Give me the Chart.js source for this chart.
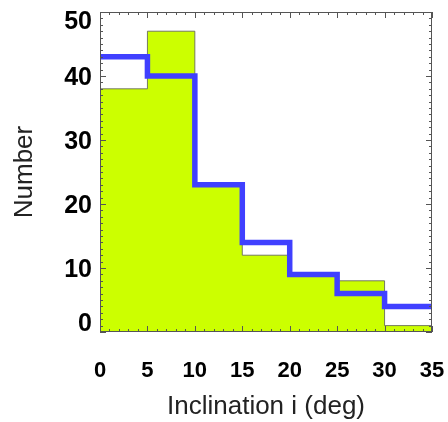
<!DOCTYPE html>
<html>
<head>
<meta charset="utf-8">
<script src="https://cdn.jsdelivr.net/npm/chart.js@4/dist/chart.umd.min.js"></script>
<style>
	html, body { margin: 0; padding: 0; background: #fff; }
	#wrap { width: 448px; height: 422px; }
</style>
</head>
<body>
<div id="wrap"><canvas id="chart" width="448" height="422"></canvas></div>
<script>
// histogram bins (deg) and counts per bin
const binEdges = [0, 5, 10, 15, 20, 25, 30, 35];
const observedCounts = [38, 47, 23, 12, 9, 8, 1];
const modelCounts = [43, 40, 23, 14, 9, 6, 4];
const xTicks = [0, 5, 10, 15, 20, 25, 30, 35];
const yTicks = [0, 10, 20, 30, 40, 50];

// stepped line needs a point at each left edge plus the last right edge
function stepPoints(counts) {
	const pts = [];
	for(let i = 0; i < counts.length; i++)
		pts.push({x: binEdges[i], y: counts[i]});
	pts.push({x: binEdges[binEdges.length - 1], y: counts[counts.length - 1]});
	return pts;
}

// frame + inward ticks on all four sides (major and minor)
const frameTicks = {
	id: "frameTicks",
	beforeDraw(chart) {
		// keep the end labels of the y axis inside the frame, like the original
		const items = chart.scales.y.getLabelItems(chart.chartArea);
		items.forEach(function(item, i) {
			let shift = 2;
			if(i === 0)
				shift = -8;
			else if(i === items.length - 1)
				shift = 10;
			item.options.translation[1] += shift;
		});
	},
	afterDatasetsDraw(chart) {
		const ctx = chart.ctx;
		const area = chart.chartArea;
		const xs = chart.scales.x;
		const ys = chart.scales.y;
		ctx.save();
		ctx.strokeStyle = "#555";
		ctx.lineWidth = 1;
		ctx.strokeRect(area.left + 0.5, area.top + 0.5, area.right - area.left - 1, area.bottom - area.top - 1);
		ctx.beginPath();
		for(let v = xs.min; v <= xs.max; v++) {
			const px = Math.round(xs.getPixelForValue(v)) + 0.5;
			const len = (v % 5 === 0) ? 6 : 3;
			ctx.moveTo(px, area.bottom);
			ctx.lineTo(px, area.bottom - len);
			ctx.moveTo(px, area.top);
			ctx.lineTo(px, area.top + len);
		}
		for(let v = ys.min; v <= ys.max; v++) {
			const py = Math.round(ys.getPixelForValue(v)) + 0.5;
			const len = (v % 10 === 0) ? 6 : 3;
			ctx.moveTo(area.left, py);
			ctx.lineTo(area.left + len, py);
			ctx.moveTo(area.right, py);
			ctx.lineTo(area.right - len, py);
		}
		ctx.stroke();
		ctx.restore();
	}
};

new Chart(document.getElementById("chart").getContext("2d"), {
	type: "line",
	data: {
		datasets: [
			{
				label: "model",
				data: stepPoints(modelCounts),
				stepped: true,
				borderColor: "rgb(64,64,255)",
				borderWidth: 5.5,
				pointRadius: 0,
				fill: false,
				order: 0
			},
			{
				label: "observed",
				data: stepPoints(observedCounts),
				stepped: true,
				borderColor: "rgba(90,90,90,0.8)",
				borderWidth: 1,
				backgroundColor: "rgb(204,255,0)",
				pointRadius: 0,
				fill: "origin",
				order: 1
			}
		]
	},
	options: {
		responsive: false,
		animation: false,
		layout: {padding: {top: 12, right: 16, left: 0, bottom: 0}},
		plugins: {legend: {display: false}, tooltip: {enabled: false}},
		scales: {
			x: {
				type: "linear",
				min: 0,
				max: 35,
				afterBuildTicks: function(scale) {
					scale.ticks = xTicks.map(v => ({value: v}));
				},
				afterFit: function(scale) {
					scale.height = 90;
					scale.paddingLeft = 0;
					scale.paddingRight = 0;
				},
				grid: {display: false, drawTicks: false},
				border: {display: false},
				ticks: {
					padding: 26,
					maxRotation: 0,
					color: "#000",
					font: {family: "Liberation Sans", size: 22, weight: "bold"}
				},
				title: {
					display: true,
					text: "Inclination i (deg)",
					color: "#222",
					padding: {top: 0, bottom: 0},
					font: {family: "Liberation Sans", size: 26}
				}
			},
			y: {
				min: 0,
				max: 50,
				afterBuildTicks: function(scale) {
					scale.ticks = yTicks.map(v => ({value: v}));
				},
				afterFit: function(scale) {
					scale.width = 100;
					scale.paddingTop = 0;
					scale.paddingBottom = 0;
				},
				grid: {display: false, drawTicks: false},
				border: {display: false},
				ticks: {
					padding: 8,
					color: "#000",
					font: {family: "Liberation Sans", size: 25, weight: "bold"}
				},
				title: {
					display: true,
					text: "Number",
					color: "#222",
					padding: {top: 9, bottom: 0},
					font: {family: "Liberation Sans", size: 26}
				}
			}
		}
	},
	plugins: [frameTicks]
});
</script>
</body>
</html>
